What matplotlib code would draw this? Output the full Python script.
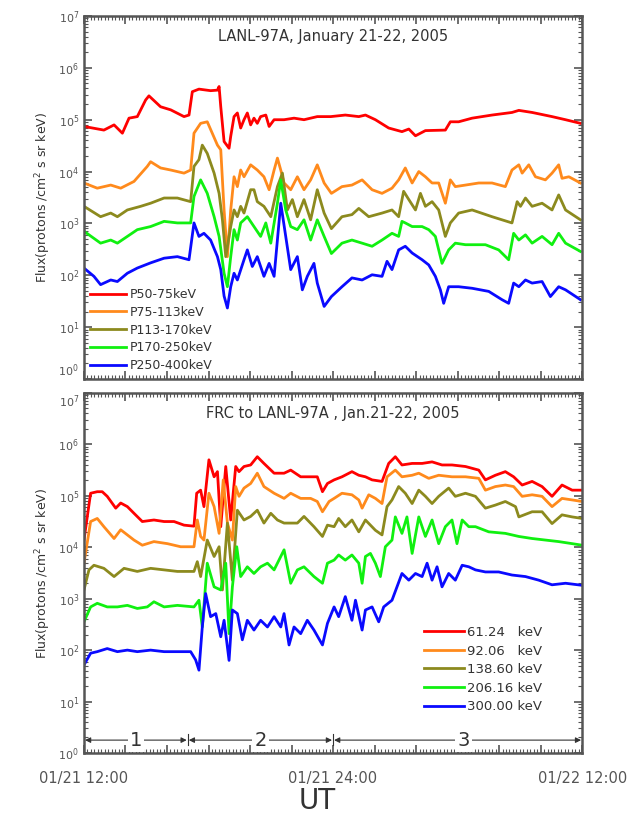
import numpy as np
import matplotlib
matplotlib.use("Agg")
from matplotlib import pyplot as plt
from matplotlib.ticker import MultipleLocator, LogLocator, NullFormatter

# data: (UT hour since 01/21 00:00, log10 flux)
# --- top panel: LANL-97A measured
lanl_p50 = [(12.00, 4.87), (12.96, 4.80), (13.45, 4.90), (13.85, 4.74), (14.17, 5.03), (14.57, 5.06),
            (14.97, 5.38), (15.13, 5.46), (15.69, 5.25), (16.18, 5.19), (16.82, 5.06), (17.06, 5.09),
            (17.22, 5.54), (17.54, 5.59), (18.10, 5.56), (18.43, 5.57), (18.51, 5.64), (18.59, 5.25),
            (18.75, 4.58), (18.99, 4.45), (19.07, 4.68), (19.23, 5.06), (19.39, 5.13), (19.55, 4.84),
            (19.71, 5.00), (19.87, 5.13), (20.03, 4.90), (20.19, 5.03), (20.35, 4.93), (20.51, 5.06),
            (20.76, 5.09), (20.92, 4.87), (21.16, 5.00), (21.64, 5.00), (22.12, 5.03), (22.60, 5.00),
            (23.24, 5.06), (23.89, 5.06), (24.59, 5.09), (25.24, 5.06), (25.56, 5.09), (26.04, 5.00),
            (26.68, 4.84), (27.32, 4.77), (27.65, 4.82), (27.97, 4.69), (28.45, 4.79), (29.41, 4.80),
            (29.65, 4.96), (30.05, 4.96), (30.70, 5.03), (31.66, 5.09), (32.62, 5.14), (32.95, 5.18),
            (33.59, 5.14), (34.55, 5.06), (35.20, 5.00), (35.92, 4.93)]
lanl_p75 = [(12.00, 3.78), (12.64, 3.68), (13.29, 3.74), (13.77, 3.68), (14.41, 3.81), (15.05, 4.10),
            (15.21, 4.19), (15.69, 4.07), (16.18, 4.03), (16.82, 3.97), (17.14, 4.03), (17.30, 4.74),
            (17.62, 4.93), (17.94, 4.96), (18.18, 4.74), (18.43, 4.51), (18.59, 4.42), (18.75, 3.26),
            (18.91, 2.36), (19.07, 3.26), (19.23, 3.90), (19.39, 3.71), (19.55, 4.03), (19.71, 3.90),
            (20.03, 4.13), (20.35, 4.03), (20.67, 3.90), (20.92, 3.65), (21.16, 4.03), (21.32, 4.26),
            (21.48, 4.03), (21.64, 3.78), (21.96, 3.65), (22.28, 3.90), (22.60, 3.65), (22.92, 3.84),
            (23.24, 4.13), (23.57, 3.78), (23.92, 3.58), (24.43, 3.71), (24.91, 3.74), (25.40, 3.84),
            (25.88, 3.65), (26.36, 3.58), (26.84, 3.68), (27.16, 3.84), (27.48, 4.07), (27.81, 3.78),
            (28.13, 4.00), (28.45, 3.90), (28.77, 3.78), (29.09, 3.78), (29.41, 3.39), (29.65, 3.84),
            (29.89, 3.71), (30.38, 3.74), (31.02, 3.78), (31.66, 3.78), (32.30, 3.71), (32.62, 4.03),
            (32.95, 4.13), (33.11, 3.97), (33.43, 4.13), (33.75, 3.90), (34.23, 3.84), (34.55, 3.97),
            (34.87, 4.13), (35.03, 3.87), (35.36, 3.90), (35.92, 3.78)]
lanl_p113 = [(12.00, 3.33), (12.80, 3.13), (13.29, 3.20), (13.61, 3.13), (14.09, 3.26), (14.73, 3.33),
             (15.21, 3.39), (15.86, 3.49), (16.50, 3.49), (17.14, 3.42), (17.30, 4.10), (17.54, 4.23),
             (17.70, 4.51), (17.94, 4.35), (18.27, 3.97), (18.51, 3.58), (18.67, 3.07), (18.83, 2.36),
             (19.07, 2.94), (19.23, 3.26), (19.39, 3.13), (19.55, 3.33), (19.71, 3.20), (20.03, 3.65),
             (20.19, 3.65), (20.35, 3.42), (20.67, 3.33), (21.00, 3.13), (21.32, 3.71), (21.56, 3.97),
             (21.80, 3.26), (22.04, 3.46), (22.28, 3.13), (22.60, 3.46), (22.92, 3.07), (23.24, 3.65),
             (23.57, 3.20), (23.92, 2.90), (24.43, 3.13), (24.91, 3.17), (25.24, 3.29), (25.72, 3.13),
             (26.36, 3.20), (26.84, 3.26), (27.16, 3.13), (27.40, 3.62), (27.65, 3.46), (27.97, 3.26),
             (28.21, 3.58), (28.45, 3.33), (28.77, 3.42), (29.09, 3.26), (29.41, 2.75), (29.65, 3.01),
             (30.05, 3.20), (30.70, 3.26), (31.66, 3.13), (32.62, 3.01), (32.87, 3.42), (33.03, 3.33),
             (33.27, 3.49), (33.59, 3.33), (34.07, 3.39), (34.55, 3.26), (34.87, 3.55), (35.20, 3.26),
             (35.92, 3.07)]
lanl_p170 = [(12.00, 2.85), (12.80, 2.62), (13.29, 2.68), (13.61, 2.62), (14.09, 2.75), (14.57, 2.88),
             (15.21, 2.94), (15.86, 3.04), (16.50, 3.01), (17.14, 3.01), (17.30, 3.52), (17.62, 3.84),
             (17.94, 3.58), (18.27, 3.13), (18.51, 2.75), (18.75, 2.04), (18.91, 1.78), (19.07, 2.36),
             (19.23, 2.88), (19.39, 2.68), (19.55, 3.01), (19.87, 3.13), (20.19, 2.94), (20.51, 2.75),
             (20.76, 3.01), (21.00, 2.62), (21.32, 3.39), (21.48, 3.84), (21.72, 3.26), (21.96, 2.94),
             (22.28, 2.88), (22.60, 3.07), (22.92, 2.68), (23.24, 3.07), (23.57, 2.75), (23.92, 2.42),
             (24.43, 2.62), (24.91, 2.68), (25.40, 2.62), (25.88, 2.56), (26.36, 2.68), (26.84, 2.81),
             (27.16, 2.75), (27.32, 3.04), (27.48, 3.01), (27.81, 2.94), (28.29, 2.94), (28.61, 2.88),
             (28.93, 2.75), (29.25, 2.23), (29.57, 2.49), (29.89, 2.62), (30.38, 2.59), (31.34, 2.59),
             (31.98, 2.49), (32.46, 2.30), (32.70, 2.81), (32.95, 2.68), (33.27, 2.78), (33.59, 2.62),
             (34.07, 2.75), (34.55, 2.59), (34.87, 2.81), (35.20, 2.62), (35.92, 2.46)]
lanl_p250 = [(12.00, 2.14), (12.48, 1.98), (12.80, 1.82), (13.29, 1.91), (13.61, 1.88), (14.09, 2.04),
             (14.57, 2.14), (15.21, 2.24), (15.86, 2.33), (16.50, 2.36), (17.06, 2.30), (17.30, 3.01),
             (17.54, 2.75), (17.78, 2.81), (18.10, 2.68), (18.43, 2.36), (18.59, 2.11), (18.75, 1.60),
             (18.91, 1.37), (19.07, 1.78), (19.23, 2.04), (19.39, 1.91), (19.71, 2.30), (19.87, 2.49),
             (20.11, 2.17), (20.35, 2.36), (20.67, 1.98), (20.92, 2.23), (21.16, 1.98), (21.48, 3.39),
             (21.72, 2.75), (21.96, 2.11), (22.28, 2.36), (22.52, 1.72), (22.76, 1.98), (23.08, 2.23),
             (23.24, 1.85), (23.57, 1.40), (23.92, 1.59), (24.43, 1.78), (24.91, 1.95), (25.40, 1.91),
             (25.88, 2.01), (26.36, 1.98), (26.60, 2.27), (26.84, 2.11), (27.16, 2.49), (27.48, 2.56),
             (27.81, 2.43), (28.29, 2.30), (28.61, 2.20), (28.93, 1.98), (29.17, 1.72), (29.33, 1.46),
             (29.57, 1.78), (30.05, 1.78), (30.70, 1.75), (31.50, 1.69), (32.14, 1.53), (32.46, 1.46),
             (32.70, 1.85), (32.95, 1.78), (33.27, 1.91), (33.59, 1.85), (34.07, 1.88), (34.47, 1.59),
             (34.87, 1.78), (35.20, 1.72), (35.92, 1.53)]

# --- bottom panel: FRC model
frc_61 = [(12.00, 4.14), (12.32, 5.05), (12.64, 5.08), (12.88, 5.08), (13.12, 4.99), (13.53, 4.76),
          (13.77, 4.86), (14.09, 4.79), (14.41, 4.66), (14.81, 4.50), (15.37, 4.53), (15.86, 4.50),
          (16.34, 4.50), (16.82, 4.43), (17.30, 4.41), (17.43, 5.05), (17.62, 5.11), (17.78, 4.79),
          (18.02, 5.70), (18.27, 5.37), (18.43, 5.47), (18.59, 4.40), (18.83, 5.57), (19.07, 4.53),
          (19.31, 5.57), (19.47, 5.47), (19.71, 5.57), (20.03, 5.60), (20.35, 5.76), (20.67, 5.63),
          (21.16, 5.44), (21.64, 5.44), (21.96, 5.50), (22.44, 5.37), (22.92, 5.37), (23.24, 5.37),
          (23.49, 5.08), (23.73, 5.24), (24.05, 5.31), (24.43, 5.37), (24.91, 5.47), (25.24, 5.40),
          (25.56, 5.37), (25.88, 5.31), (26.36, 5.28), (26.68, 5.63), (27.00, 5.76), (27.32, 5.60),
          (27.81, 5.63), (28.29, 5.63), (28.77, 5.66), (29.25, 5.60), (29.73, 5.60), (30.38, 5.57),
          (31.02, 5.50), (31.34, 5.31), (31.82, 5.40), (32.30, 5.47), (32.70, 5.37), (33.11, 5.21),
          (33.59, 5.28), (34.07, 5.18), (34.55, 4.99), (35.03, 5.21), (35.52, 5.11), (36.00, 5.11)]
frc_92 = [(12.00, 3.69), (12.32, 4.50), (12.64, 4.56), (12.96, 4.40), (13.45, 4.17), (13.77, 4.34),
          (14.09, 4.24), (14.41, 4.14), (14.81, 4.04), (15.37, 4.11), (16.02, 4.07), (16.66, 4.01),
          (17.30, 4.01), (17.46, 4.53), (17.62, 4.21), (17.78, 4.14), (18.02, 5.05), (18.27, 4.79),
          (18.51, 4.27), (18.71, 5.31), (18.91, 4.47), (19.15, 4.14), (19.31, 5.18), (19.47, 4.99),
          (19.71, 5.15), (20.03, 5.24), (20.35, 5.44), (20.67, 5.18), (21.16, 5.05), (21.64, 4.95),
          (21.96, 5.05), (22.44, 4.95), (22.92, 4.95), (23.24, 4.89), (23.49, 4.69), (23.81, 4.89),
          (24.05, 4.95), (24.43, 5.05), (24.91, 5.02), (25.24, 4.92), (25.40, 4.76), (25.72, 5.02),
          (26.04, 4.95), (26.36, 4.85), (26.60, 5.37), (27.00, 5.50), (27.32, 5.37), (27.81, 5.40),
          (28.13, 5.44), (28.61, 5.34), (29.09, 5.40), (29.73, 5.37), (30.38, 5.37), (31.02, 5.34),
          (31.34, 5.11), (31.82, 5.18), (32.30, 5.21), (32.70, 5.18), (33.11, 4.99), (33.59, 5.02),
          (34.07, 4.99), (34.55, 4.79), (35.03, 4.95), (35.52, 4.92), (36.00, 4.89)]
frc_138 = [(12.00, 3.17), (12.24, 3.56), (12.48, 3.65), (12.96, 3.59), (13.45, 3.43), (13.93, 3.59),
           (14.57, 3.53), (15.21, 3.59), (15.86, 3.56), (16.50, 3.53), (17.30, 3.53), (17.46, 3.72),
           (17.62, 3.43), (17.94, 4.14), (18.27, 3.82), (18.51, 4.01), (18.67, 3.17), (18.91, 4.47),
           (19.15, 3.36), (19.39, 4.72), (19.71, 4.53), (20.03, 4.60), (20.35, 4.72), (20.67, 4.47),
           (21.00, 4.66), (21.32, 4.53), (21.64, 4.47), (22.28, 4.47), (22.60, 4.60), (23.08, 4.40),
           (23.49, 4.21), (23.73, 4.43), (24.05, 4.40), (24.27, 4.56), (24.59, 4.40), (24.91, 4.53),
           (25.24, 4.30), (25.56, 4.53), (26.04, 4.33), (26.36, 4.24), (26.60, 4.79), (26.84, 4.92),
           (27.16, 5.18), (27.48, 5.05), (27.81, 4.85), (28.13, 5.11), (28.45, 4.99), (28.77, 4.85),
           (29.09, 4.99), (29.57, 5.15), (29.89, 4.99), (30.38, 5.05), (30.86, 4.99), (31.34, 4.76),
           (31.82, 4.82), (32.30, 4.89), (32.79, 4.79), (32.95, 4.59), (33.59, 4.69), (34.07, 4.69),
           (34.55, 4.46), (35.03, 4.63), (35.52, 4.59), (36.00, 4.56)]
frc_206 = [(12.00, 2.55), (12.32, 2.84), (12.64, 2.91), (13.12, 2.84), (13.61, 2.84), (14.09, 2.87),
           (14.57, 2.81), (15.05, 2.84), (15.37, 2.94), (15.86, 2.84), (16.50, 2.87), (17.30, 2.84),
           (17.54, 2.97), (17.70, 2.45), (17.94, 3.69), (18.27, 3.23), (18.59, 3.17), (18.83, 3.69),
           (18.99, 2.32), (19.15, 3.23), (19.36, 4.01), (19.55, 3.43), (19.87, 3.62), (20.19, 3.49),
           (20.51, 3.62), (20.84, 3.69), (21.16, 3.56), (21.64, 3.95), (21.96, 3.30), (22.28, 3.56),
           (22.60, 3.62), (23.08, 3.43), (23.49, 3.30), (23.73, 3.69), (24.05, 3.75), (24.27, 3.85),
           (24.59, 3.75), (24.91, 3.85), (25.24, 3.69), (25.40, 3.30), (25.56, 3.82), (25.80, 3.88),
           (26.04, 3.69), (26.28, 3.43), (26.52, 4.01), (26.84, 4.14), (27.00, 4.59), (27.32, 4.27),
           (27.56, 4.59), (27.81, 3.88), (28.13, 4.59), (28.45, 4.21), (28.77, 4.53), (29.09, 4.07),
           (29.41, 4.40), (29.73, 4.53), (29.97, 4.07), (30.22, 4.53), (30.54, 4.40), (30.86, 4.40),
           (31.50, 4.30), (32.30, 4.27), (32.95, 4.21), (33.59, 4.17), (34.23, 4.14), (34.87, 4.11),
           (35.52, 4.07), (36.00, 4.04)]
frc_300 = [(12.00, 1.71), (12.32, 1.94), (12.64, 1.97), (13.12, 2.03), (13.61, 1.97), (14.09, 2.00),
           (14.57, 1.97), (15.21, 2.00), (15.86, 1.97), (16.50, 1.97), (17.14, 1.97), (17.38, 1.81),
           (17.54, 1.61), (17.70, 2.45), (17.86, 3.10), (18.10, 2.65), (18.35, 2.71), (18.59, 2.26),
           (18.75, 2.58), (18.99, 1.80), (19.15, 2.78), (19.39, 2.71), (19.63, 2.20), (19.87, 2.58),
           (20.19, 2.39), (20.51, 2.58), (20.84, 2.45), (21.16, 2.65), (21.48, 2.45), (21.64, 2.71),
           (21.88, 2.10), (22.12, 2.45), (22.44, 2.32), (22.76, 2.58), (23.08, 2.39), (23.49, 2.10),
           (23.73, 2.52), (24.05, 2.84), (24.27, 2.65), (24.59, 3.04), (24.91, 2.58), (25.08, 2.97),
           (25.40, 2.39), (25.56, 2.78), (25.88, 2.84), (26.20, 2.55), (26.44, 2.84), (26.84, 2.97),
           (27.32, 3.49), (27.65, 3.36), (27.97, 3.49), (28.29, 3.43), (28.53, 3.69), (28.77, 3.36),
           (29.01, 3.62), (29.25, 3.23), (29.57, 3.49), (29.89, 3.36), (30.22, 3.65), (30.54, 3.62),
           (30.86, 3.56), (31.34, 3.52), (31.98, 3.52), (32.62, 3.46), (33.27, 3.43), (33.91, 3.36),
           (34.55, 3.27), (35.20, 3.30), (36.00, 3.26)]

colors = ['#ff0000', '#ff8a1c', '#8c8a1e', '#10f010', '#0a0aff']
lanl_labels = ['P50-75keV', 'P75-113keV', 'P113-170keV', 'P170-250keV', 'P250-400keV']
frc_labels = ['61.24   keV', '92.06   keV', '138.60 keV', '206.16 keV', '300.00 keV']

# storm phases (UT hour boundaries) and labels
phase_edges = [12.0, 17.0, 24.0, 36.0]
phase_names = ['1', '2', '3']

decades = list(range(8))
gray = '#555555'
dark = '#333333'
ylab = 'Flux(protons /cm$^2$ s sr keV)'

fig = plt.figure(figsize=(6.29, 8.24), dpi=100)
ax1 = fig.add_axes([0.1335, 0.540, 0.792, 0.4406])
ax2 = fig.add_axes([0.1335, 0.0862, 0.792, 0.4369])


def style(ax):
    ax.set_yscale('log')
    ax.set_ylim(1, 1e7)
    ax.set_xlim(12, 36)
    ax.xaxis.set_major_locator(MultipleLocator(2))
    ax.xaxis.set_minor_locator(MultipleLocator(1 / 6))
    ax.set_yticks([10.0 ** k for k in decades])
    labs = ax.set_yticklabels(['$10^{%d}$' % k for k in decades])
    ax.yaxis.set_minor_locator(LogLocator(base=10, subs=np.arange(2, 10), numticks=20))
    ax.yaxis.set_minor_formatter(NullFormatter())
    ax.tick_params(which='both', direction='in', top=True, right=True, color=gray,
                   labelcolor=gray, labelsize=8)
    ax.tick_params(which='major', length=6, width=1.2)
    ax.tick_params(which='minor', length=3, width=0.8)
    for s in ax.spines.values():
        s.set_color(gray)
        s.set_linewidth(1.8)
    ax.set_ylabel(ylab, color=dark, fontsize=9, labelpad=4)
    return labs


labs1 = style(ax1)
labs2 = style(ax2)
# keep the 10^0 (top) and 10^7 (bottom) labels apart in the gap between panels
labs1[0].set_va('bottom')
labs2[-1].set_va('top')

for data, c, lab in zip([lanl_p50, lanl_p75, lanl_p113, lanl_p170, lanl_p250], colors, lanl_labels):
    d = np.array(data)
    ax1.plot(d[:, 0], 10 ** d[:, 1], color=c, lw=2.0, label=lab)

for data, c, lab in zip([frc_61, frc_92, frc_138, frc_206, frc_300], colors, frc_labels):
    d = np.array(data)
    ax2.plot(d[:, 0], 10 ** d[:, 1], color=c, lw=2.0, label=lab)

ax1.set_xticklabels([])
ax2.set_xticks([12, 14, 16, 18, 20, 22, 24, 26, 28, 30, 32, 34, 36])
ax2.set_xticklabels(['01/21 12:00', '', '', '', '', '', '01/21 24:00', '', '', '', '', '', '01/22 12:00'],
                    fontsize=10.5)
ax2.tick_params(axis='x', which='major', pad=13)

ax1.text(0.5, 0.965, 'LANL-97A, January 21-22, 2005', transform=ax1.transAxes,
         ha='center', va='top', fontsize=10.5, color=dark)
ax2.text(0.5, 0.965, 'FRC to LANL-97A , Jan.21-22, 2005', transform=ax2.transAxes,
         ha='center', va='top', fontsize=10.5, color=dark)

leg1 = ax1.legend(loc='lower left', bbox_to_anchor=(-0.005, -0.005), frameon=False, fontsize=9,
                  handlelength=2.9, handletextpad=0.3, labelspacing=0.38, borderaxespad=0.3)
for t in leg1.get_texts():
    t.set_color(dark)
leg2 = ax2.legend(loc='lower left', bbox_to_anchor=(0.665, 0.085), frameon=False, fontsize=9.5,
                  handlelength=3.0, handletextpad=0.2, labelspacing=0.42, borderaxespad=0.3)
for t in leg2.get_texts():
    t.set_color(dark)

# phase arrows
ya = 10 ** 0.25
for i in range(3):
    x0, x1 = phase_edges[i], phase_edges[i + 1]
    ax2.annotate('', xy=(x0 + 0.05, ya), xytext=(x1 - 0.05, ya),
                 arrowprops=dict(arrowstyle='<|-|>', color=dark, lw=0.8,
                                 mutation_scale=8, shrinkA=0, shrinkB=0))
    ax2.text((x0 + x1) / 2 + (0.3 if i == 2 else 0), ya, phase_names[i], ha='center', va='center',
             fontsize=14, color=dark, bbox=dict(facecolor='white', edgecolor='none', pad=1.5))
for xb in phase_edges[1:3]:
    ax2.plot([xb, xb], [10 ** 0.15, 10 ** 0.36], color=dark, lw=0.8)

fig.text(0.505, 0.028, 'UT', ha='center', va='center', fontsize=20, color=dark)

fig.savefig('out.png', dpi=100)
